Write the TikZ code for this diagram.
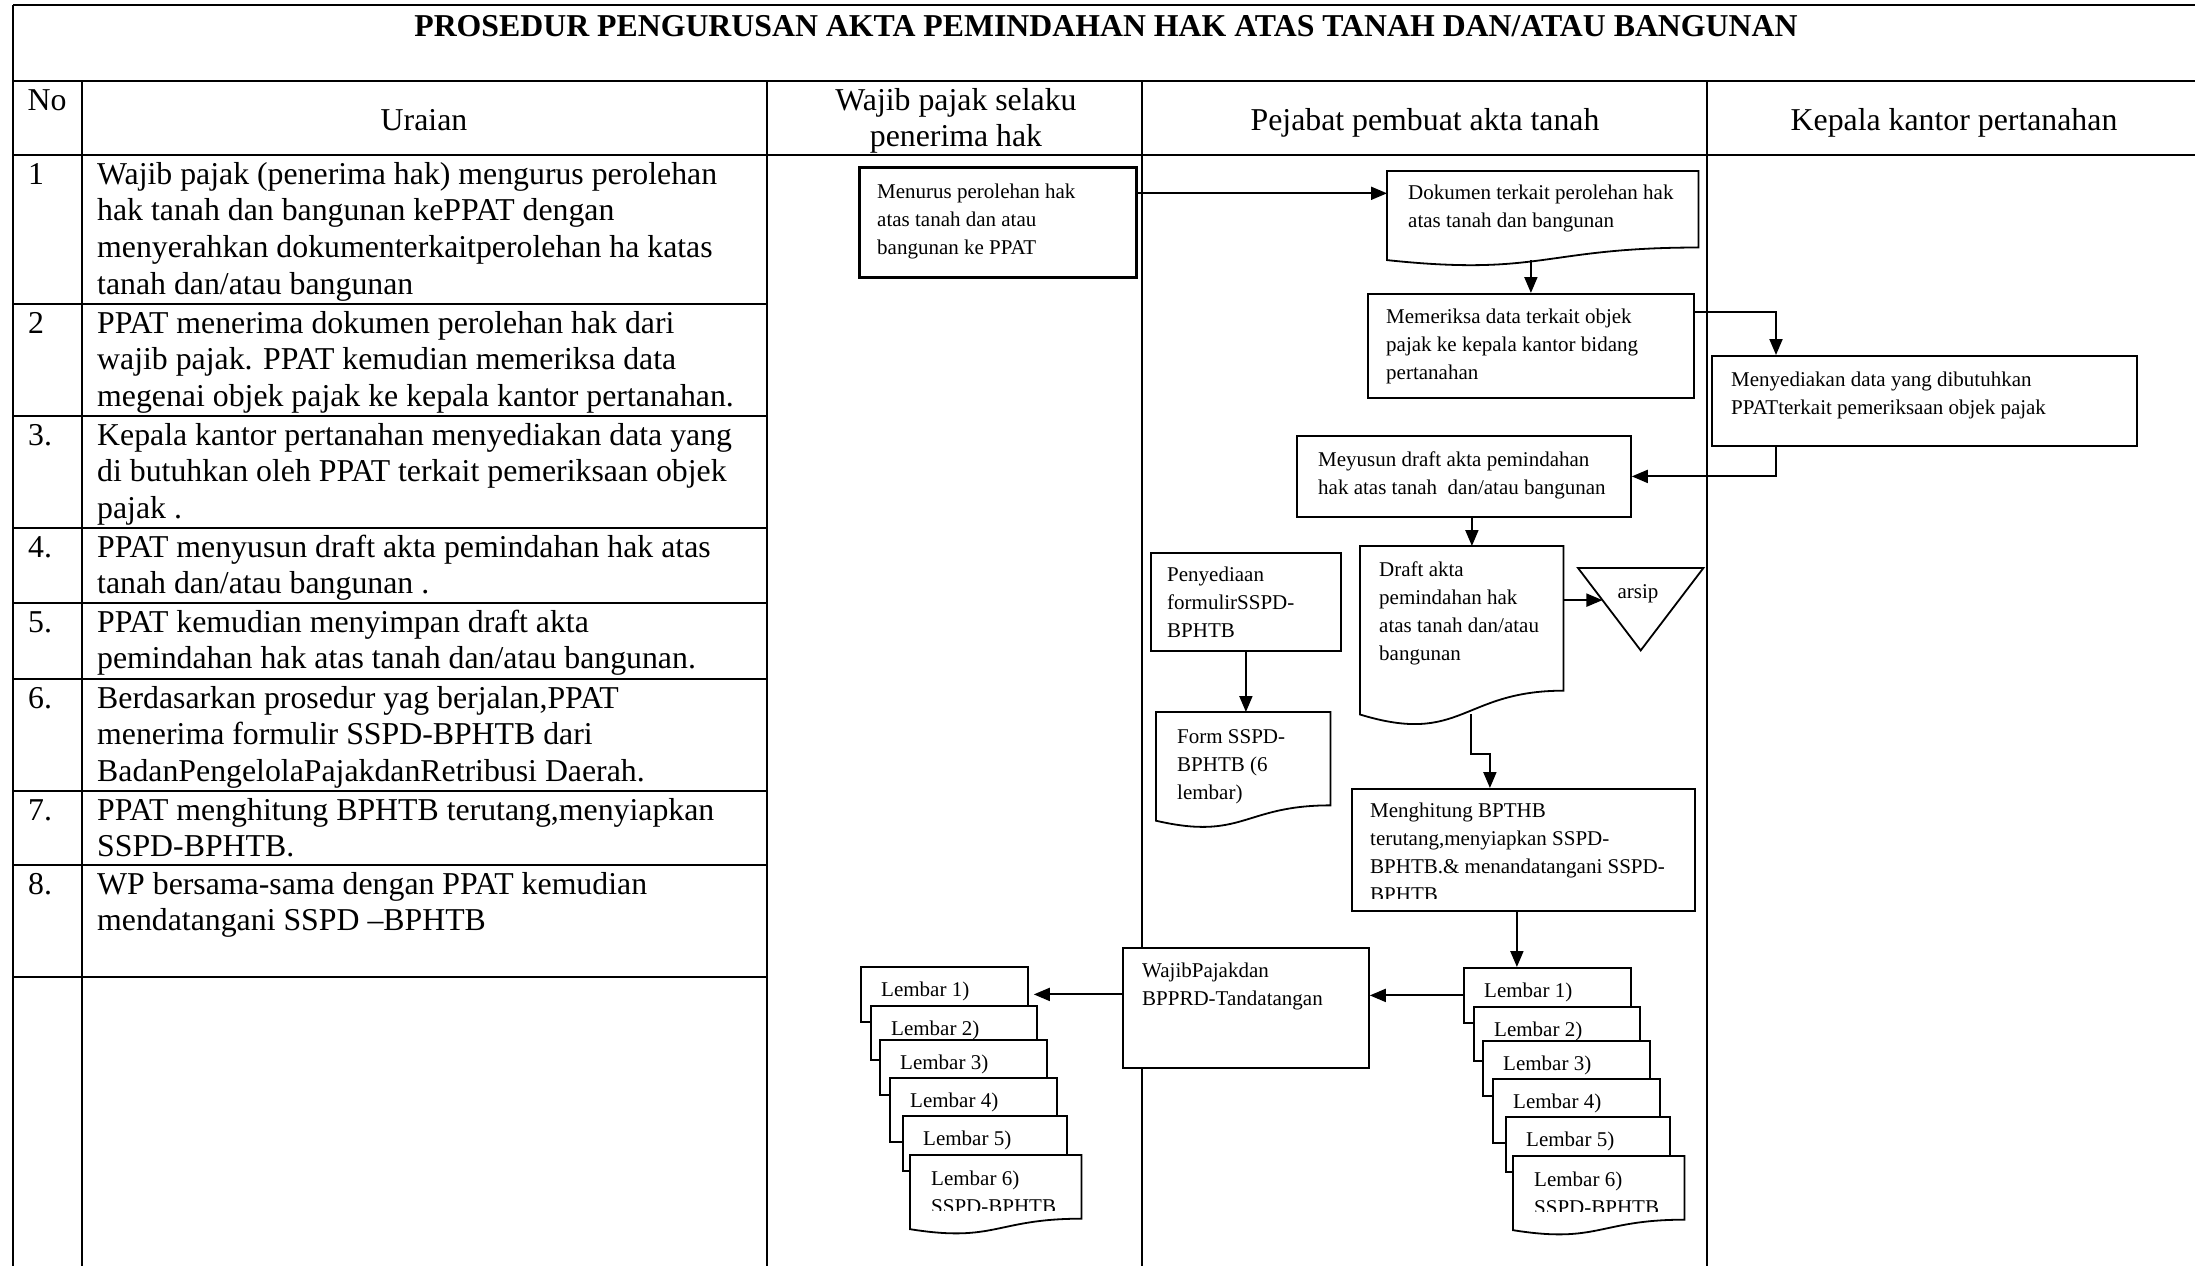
\documentclass[tikz,border=0pt]{standalone}
\usepackage{fontspec}
\setmainfont{Liberation Serif}
\usetikzlibrary{arrows.meta,calc}

\newcommand\bodyfont{\fontsize{31.8}{36.6}\selectfont}
\newcommand\flowfont{\fontsize{21}{28}\selectfont}

\tikzset{
  grid/.style={line width=2pt},
  celltext/.style={font=\bodyfont, inner sep=0pt, anchor=north west, align=left},
  headtext/.style={font=\bodyfont, inner sep=0pt, anchor=base},
  box/.style={draw, line width=1.8pt, fill=white, inner sep=0pt, anchor=north west},
  docbox/.style={inner sep=0pt, anchor=north west},
  ftext/.style={font=\flowfont, inner sep=0pt, anchor=north west, align=left},
  arrow/.style={line width=2pt, -{Triangle[length=16pt,width=13pt]}},
}

% document symbol: flat top, wavy bottom; also names the middle of the wave
\newcommand\docshape[2][]{%
  \draw[line width=1.8pt,#1] (#2.north west) -- (#2.north east)
    -- ($(#2.north east)!0.802!(#2.south east)$)
    .. controls ($(#2.north)!0.802!(#2.south)$) and ($(#2.north)!1.107!(#2.south)$)
    .. ($(#2.north west)!0.934!(#2.south west)$) -- cycle;
  \coordinate (#2-wave) at ($(#2.north)!0.933!(#2.south)$);}

% stack of six copies of the SSPD-BPHTB form
\newcommand\lembarstack[3]{%
  \begin{scope}[shift={(#2,#3)}]
    \node[box, minimum width=167pt, minimum height=55pt] (#1L1) at (0,0) {};
    \node[ftext] (#1T1) at ([shift={(21,10.4)}]#1L1.north west) {\strut Lembar 1)};
    \node[box, minimum width=166pt, minimum height=54pt] (#1L2) at (10,39) {};
    \node[ftext] (#1T2) at ([shift={(21,10.4)}]#1L2.north west) {\strut Lembar 2)};
    \node[box, minimum width=167pt, minimum height=55pt] (#1L3) at (19,73) {};
    \node[ftext] (#1T3) at ([shift={(21,10.4)}]#1L3.north west) {\strut Lembar 3)};
    \node[box, minimum width=167pt, minimum height=64pt] (#1L4) at (29,111) {};
    \node[ftext] (#1T4) at ([shift={(21,10.4)}]#1L4.north west) {\strut Lembar 4)};
    \node[box, minimum width=164pt, minimum height=55pt] (#1L5) at (42,149) {};
    \node[ftext] (#1T5) at ([shift={(21,10.4)}]#1L5.north west) {\strut Lembar 5)};
    \node[docbox, minimum width=171pt, minimum height=79pt] (#1L6) at (50,189) {};
  \end{scope}
  \docshape[fill=white]{#1L6}
  \begin{scope}
    \clip (#1L6.north west) rectangle ([shift={(0,55)}]#1L6.north east);
    \node[ftext] (#1T6) at ([shift={(21,10.4)}]#1L6.north west) {\strut Lembar 6)\\SSPD-BPHTB};
  \end{scope}}

\begin{document}
\begin{tikzpicture}[x=1pt, y=-1pt]
\useasboundingbox (0,0) rectangle (2195,1266);

% ---------- table frame ----------
\draw[grid] (13,5) -- (2195,5);
\draw[grid] (13,81) -- (2195,81);
\draw[grid] (13,155) -- (2195,155);
\draw[grid] (13,5) -- (13,1266);
\draw[grid] (82,81) -- (82,1266);
\draw[grid] (767,81) -- (767,1266);
\draw[grid] (1142,81) -- (1142,1266);
\draw[grid] (1707,81) -- (1707,1266);
\foreach \yy in {304,416,528,603,679,791,865,977}
  \draw[grid] (13,\yy) -- (767,\yy);

% ---------- title and column heads ----------
\node[headtext, font=\bodyfont\bfseries] (title) at (1106,36)
  {PROSEDUR PENGURUSAN AKTA PEMINDAHAN HAK ATAS TANAH DAN/ATAU BANGUNAN};
\node[headtext] (hno) at (47,110) {No};
\node[headtext] (hur) at (424,130) {Uraian};
\node[celltext, anchor=north, align=center] (hwp) at (956,84.4) {\strut Wajib pajak selaku\\penerima hak};
\node[headtext] (hpj) at (1425,130) {Pejabat pembuat akta tanah};
\node[headtext] (hkp) at (1954,130) {Kepala kantor pertanahan};

% ---------- steps ----------
\node[celltext] (n1) at (28,158.4) {\strut 1};
\node[celltext] (u1) at (97,158.4) {\strut Wajib pajak (penerima hak) mengurus perolehan\\hak tanah dan bangunan kePPAT dengan\\menyerahkan dokumenterkaitperolehan ha katas\\tanah dan/atau bangunan};
\node[celltext] (n2) at (28,307.4) {\strut 2};
\node[celltext] (u2) at (97,307.4) {\strut PPAT menerima dokumen perolehan hak dari\\wajib pajak. PPAT kemudian memeriksa data\\megenai objek pajak ke kepala kantor pertanahan.};
\node[celltext] (n3) at (28,419.4) {\strut 3.};
\node[celltext] (u3) at (97,419.4) {\strut Kepala kantor pertanahan menyediakan data yang\\di butuhkan oleh PPAT terkait pemeriksaan objek\\pajak .};
\node[celltext] (n4) at (28,531.4) {\strut 4.};
\node[celltext] (u4) at (97,531.4) {\strut PPAT menyusun draft akta pemindahan hak atas\\tanah dan/atau bangunan .};
\node[celltext] (n5) at (28,606.4) {\strut 5.};
\node[celltext] (u5) at (97,606.4) {\strut PPAT kemudian menyimpan draft akta\\pemindahan hak atas tanah dan/atau bangunan.};
\node[celltext] (n6) at (28,682.4) {\strut 6.};
\node[celltext] (u6) at (97,682.4) {\strut Berdasarkan prosedur yag berjalan,PPAT\\menerima formulir SSPD-BPHTB dari\\BadanPengelolaPajakdanRetribusi Daerah.};
\node[celltext] (n7) at (28,794.4) {\strut 7.};
\node[celltext] (u7) at (97,794.4) {\strut PPAT menghitung BPHTB terutang,menyiapkan\\SSPD-BPHTB.};
\node[celltext] (n8) at (28,868.4) {\strut 8.};
\node[celltext] (u8) at (97,868.4) {\strut WP bersama-sama dengan PPAT kemudian\\mendatangani SSPD --BPHTB};

% ---------- flow ----------
\node[box, line width=2.6pt, minimum width=277pt, minimum height=110pt] (menurus) at (858,166) {};
\node[ftext] (menurusT) at ([shift={(19,12.4)}]menurus.north west)
  {\strut Menurus perolehan hak\\atas tanah dan atau\\bangunan ke PPAT};

\node[docbox, minimum width=311pt, minimum height=95pt] (dokumen) at (1387,171) {};
\docshape{dokumen}
\node[ftext] (dokumenT) at ([shift={(21,8.4)}]dokumen.north west)
  {\strut Dokumen terkait perolehan hak\\atas tanah dan bangunan};

\node[box, minimum width=326pt, minimum height=104pt] (periksa) at (1367,293) {};
\node[ftext] (periksaT) at ([shift={(19,10.4)}]periksa.north west)
  {\strut Memeriksa data terkait objek\\pajak ke kepala kantor bidang\\pertanahan};

\node[box, minimum width=425pt, minimum height=90pt] (sedia) at (1711,355) {};
\node[ftext] (sediaT) at ([shift={(20,11.4)}]sedia.north west)
  {\strut Menyediakan data yang dibutuhkan\\PPATterkait pemeriksaan objek pajak};

\node[box, minimum width=334pt, minimum height=81pt] (susun) at (1296,435) {};
\node[ftext] (susunT) at ([shift={(22,11.4)}]susun.north west)
  {\strut Meyusun draft akta pemindahan\\hak atas tanah\ \ dan/atau bangunan};

\node[box, minimum width=190pt, minimum height=98pt] (formulir) at (1150,552) {};
\node[ftext] (formulirT) at ([shift={(17,9.4)}]formulir.north west)
  {\strut Penyediaan\\formulirSSPD-\\BPHTB};

\node[docbox, minimum width=203pt, minimum height=180pt] (draft) at (1360,546) {};
\docshape{draft}
\node[ftext] (draftT) at ([shift={(19,10.4)}]draft.north west)
  {\strut Draft akta\\pemindahan hak\\atas tanah dan/atau\\bangunan};

\node[docbox, minimum width=125pt, minimum height=82pt] (arsip) at (1578,568) {};
\draw[line width=1.8pt] (arsip.north west) -- (arsip.north east) -- (arsip.south) -- cycle;
\node[ftext, anchor=base] (arsipT) at (1638,598) {arsip};
\coordinate (arsipin) at ($(arsip.north west)!0.39!(arsip.south)$);

\node[docbox, minimum width=174pt, minimum height=116pt] (form) at (1156,712) {};
\docshape{form}
\node[ftext] (formT) at ([shift={(21,11.4)}]form.north west)
  {\strut Form SSPD-\\BPHTB (6\\lembar)};

\node[box, minimum width=343pt, minimum height=122pt] (hitung) at (1351,788) {};
\begin{scope}
  \clip (hitung.north west) rectangle ([yshift=13pt]hitung.south east);
  \node[ftext] (hitungT) at ([shift={(19,9.4)}]hitung.north west)
    {\strut Menghitung BPTHB\\terutang,menyiapkan SSPD-\\BPHTB.\& menandatangani SSPD-\\BPHTB};
\end{scope}

\node[box, minimum width=246pt, minimum height=120pt] (tanda) at (1122,947) {};
\node[ftext] (tandaT) at ([shift={(20,10.4)}]tanda.north west)
  {\strut WajibPajakdan\\BPPRD-Tandatangan};

\lembarstack{l}{860}{966}
\lembarstack{r}{1463}{967}

% ---------- connectors ----------
\draw[arrow] ([yshift=29pt]menurus.east) -- ([yshift=29pt]menurus.east -| dokumen.west);
\draw[arrow] (periksa.north |- dokumen-wave) -- (periksa.north);
\draw[arrow] ([yshift=34pt]periksa.east) -| ([xshift=65pt]sedia.north west);
\draw[arrow] ([xshift=65pt]sedia.south west) |- (susun.east);
\draw[arrow] ([xshift=8pt]susun.south) -- ([xshift=8pt]susun.south |- draft.north);
\draw[arrow] (draft.east |- arsipin) -- (arsipin);
\draw[arrow] ([xshift=9pt]draft-wave) -- ++(0,39.5) -| ([xshift=-33.5pt]hitung.north);
\draw[arrow] (formulir.south) -- (formulir.south |- form.north);
\draw[arrow] ([xshift=-6.5pt]hitung.south) -- ([xshift=-6.5pt]hitung.south |- rL1.north);
\draw[arrow] (rL1.west) -- (rL1.west -| tanda.east);
\draw[arrow, shorten >=5pt] (tanda.west |- lL1.east) -- (lL1.east);
\end{tikzpicture}
\end{document}
